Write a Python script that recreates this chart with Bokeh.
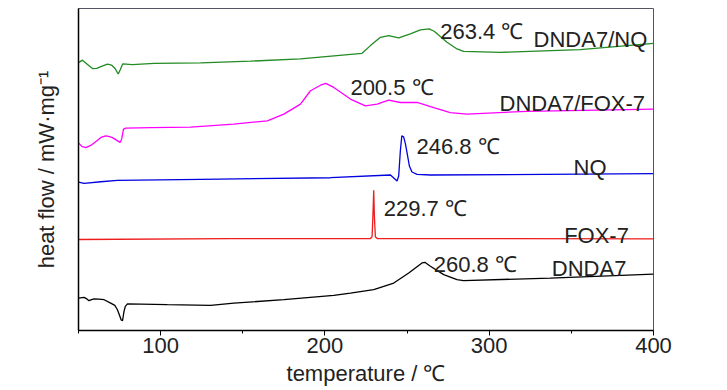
from bokeh.plotting import figure
from bokeh.models import Range1d, FixedTicker, Label
from bokeh.embed import file_html
from bokeh.resources import INLINE

# DNDA7/NQ (green)
t_nq_mix = [50.0, 52.4, 56.4, 58.7, 61.1, 63.6, 67.6, 70.2, 72.1, 74.2, 75.4, 76.9, 82.8, 96.0,
            124.4, 154.7, 185.1, 222.6, 227.7, 233.8, 238.8, 244.9, 252.0, 258.1, 263.4, 266.5,
            274.3, 280.4, 284.4, 306.7, 355.4, 400.0]
h_nq_mix = [26.70, 26.95, 26.40, 26.10, 26.13, 26.30, 26.55, 26.45, 26.15, 25.57, 26.00, 26.57,
            26.50, 26.63, 26.67, 26.85, 27.07, 27.63, 28.40, 29.23, 29.40, 29.17, 29.57, 29.97,
            30.07, 29.83, 28.73, 28.07, 27.83, 27.73, 28.00, 28.63]

# DNDA7/FOX-7 (magenta)
t_fox_mix = [50.0, 52.0, 54.4, 57.5, 61.6, 63.6, 66.6, 68.4, 70.7, 73.3, 75.3, 76.3, 77.4, 78.8,
             94.0, 118.3, 144.4, 164.9, 175.0, 185.1, 191.2, 197.3, 200.5, 205.4, 215.5, 224.6,
             231.8, 238.8, 245.9, 256.1, 266.2, 276.3, 286.5, 323.0, 400.0]
h_fox_mix = [18.70, 18.35, 18.23, 18.45, 18.97, 19.25, 19.40, 19.35, 19.23, 18.95, 18.75, 19.10,
             20.07, 20.17, 20.23, 20.27, 20.57, 20.90, 21.57, 22.57, 23.90, 24.45, 24.63, 24.23,
             23.07, 22.40, 22.57, 22.97, 22.73, 22.73, 22.23, 21.73, 21.57, 21.85, 22.07]

# NQ (blue)
t_nq = [50.0, 53.4, 63.6, 73.7, 124.4, 203.4, 239.9, 243.9, 244.9, 245.9, 246.8, 247.9, 249.0,
        250.0, 251.4, 253.0, 256.1, 264.2, 400.0]
h_nq = [14.80, 14.67, 14.83, 14.97, 15.07, 15.23, 15.50, 14.90, 15.40, 17.90, 19.40, 19.30,
        18.60, 17.70, 16.40, 15.80, 15.57, 15.50, 15.63]

# FOX-7 (red)
t_fox = [50.0, 142.6, 227.7, 228.7, 229.2, 229.7, 230.1, 230.7, 231.8, 400.0]
h_fox = [9.07, 9.15, 9.17, 9.35, 11.40, 13.97, 11.40, 9.35, 9.17, 9.13]

# DNDA7 (black)
t_dnda = [50.0, 53.4, 55.1, 56.4, 57.5, 59.5, 62.3, 65.6, 69.6, 72.1, 73.7, 74.8, 76.0, 76.8,
          77.7, 78.5, 79.8, 104.1, 130.4, 144.6, 175.0, 205.4, 215.5, 229.7, 241.9, 251.0,
          259.1, 260.8, 264.2, 272.3, 280.4, 284.4, 337.1, 400.0]
h_dnda = [3.23, 3.30, 3.15, 2.97, 3.05, 3.15, 3.13, 3.07, 2.73, 2.50, 2.07, 1.60, 1.05, 0.97,
          1.90, 2.40, 2.65, 2.57, 2.50, 2.73, 3.07, 3.50, 3.73, 4.07, 4.73, 5.73, 6.73, 6.80,
          6.40, 5.57, 5.07, 4.97, 5.23, 5.63]

x_major_ticks = [100, 200, 300, 400]
x_minor_ticks = [50, 150, 250, 350]

peak_texts = ["263.4 ℃", "200.5 ℃", "246.8 ℃", "229.7 ℃", "260.8 ℃"]
peak_x = [270.2, 215.5, 255.7, 235.8, 266.2]
peak_y = [29.8, 24.23, 18.3, 12.17, 6.57]
name_texts = ["DNDA7/NQ", "DNDA7/FOX-7", "NQ", "FOX-7", "DNDA7"]
name_x = [327.0, 306.3, 351.3, 345.6, 338.1]
name_y = [28.97, 22.63, 16.23, 9.5, 6.17]

FONT = "Liberation Sans"
TXT = "#222222"

p = figure(width=711, height=388, output_backend="svg", toolbar_location=None,
           x_range=Range1d(50, 400), y_range=Range1d(0, 32.1),
           min_border_left=78, min_border_right=58, min_border_top=8, min_border_bottom=0)
p.xgrid.visible = False
p.ygrid.visible = False
p.outline_line_color = "#555566"
p.outline_line_width = 1

lw = 1.3
p.line(t_nq_mix, h_nq_mix, line_color="#228b22", line_width=lw)
p.line(t_fox_mix, h_fox_mix, line_color="#ff00ff", line_width=lw)
p.line(t_nq, h_nq, line_color="#0000e0", line_width=lw)
p.line(t_fox, h_fox, line_color="#ee1c1c", line_width=lw)
p.line(t_dnda, h_dnda, line_color="#000000", line_width=lw)

for txt, x, y in zip(peak_texts + name_texts, peak_x + name_x, peak_y + name_y):
    p.add_layout(Label(x=x, y=y, text=txt, text_font=FONT, text_font_size="22px",
                       text_color=TXT, text_baseline="alphabetic"))

xa = p.xaxis[0]
xa.ticker = FixedTicker(ticks=x_major_ticks, minor_ticks=x_minor_ticks)
xa.major_tick_out = 5
xa.major_tick_in = 0
xa.minor_tick_out = 3
xa.minor_tick_in = 0
xa.axis_line_color = "#000000"
xa.axis_line_width = 1.5
xa.major_label_text_font = FONT
xa.major_label_text_font_size = "22px"
xa.major_label_text_color = TXT
xa.major_label_standoff = 2
xa.axis_label = "temperature / ℃"
xa.axis_label_text_font = FONT
xa.axis_label_text_font_size = "22px"
xa.axis_label_text_font_style = "normal"
xa.axis_label_text_color = TXT
xa.axis_label_standoff = 5

ya = p.yaxis[0]
ya.ticker = FixedTicker(ticks=[])
ya.major_tick_out = 0
ya.minor_tick_out = 0
ya.axis_line_color = "#000000"
ya.axis_line_width = 1.5
ya.axis_label = "heat flow / mW·mg⁻¹"
ya.axis_label_text_font = FONT
ya.axis_label_text_font_size = "22px"
ya.axis_label_text_font_style = "normal"
ya.axis_label_text_color = TXT
ya.axis_label_standoff = 20

open("out.html", "w").write(file_html(p, INLINE))
